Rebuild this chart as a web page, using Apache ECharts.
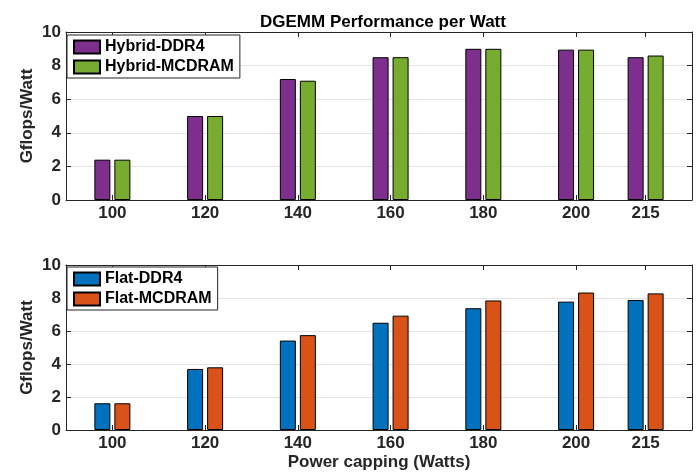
<!DOCTYPE html>
<html>
<head>
<meta charset="utf-8">
<script src="https://cdn.jsdelivr.net/npm/echarts@6/dist/echarts.min.js"></script>
<style>
html,body{margin:0;padding:0;background:#fff;}
#chart{width:698px;height:472px;}
</style>
</head>
<body>
<div id="chart"></div>
<script>
const powerCaps = [100, 120, 140, 160, 180, 200, 215];
const hybridDDR4 = [2.4, 5.0, 7.2, 8.5, 9.0, 8.95, 8.5];
const hybridMCDRAM = [2.4, 5.0, 7.1, 8.5, 9.0, 8.95, 8.6];
const flatDDR4 = [1.62, 3.7, 5.42, 6.5, 7.38, 7.78, 7.88];
const flatMCDRAM = [1.62, 3.8, 5.75, 6.93, 7.85, 8.33, 8.28];
const yTicks = [0, 2, 4, 6, 8, 10];

const FONT = "'Liberation Sans', Arial, sans-serif";
const AX = '#262626';
const colors = { hd: '#7E2F8E', hm: '#77AC30', fd: '#0072BD', fm: '#D95319' };

function pairs(vals) { return powerCaps.map((p, i) => [p, vals[i]]); }

function xAxisBottom(gridIndex, withName) {
  return {
    type: 'value', gridIndex, position: 'bottom', min: 90, max: 225,
    axisLine: { show: true, onZero: false, lineStyle: { color: AX, width: 1 } },
    axisTick: { show: true, inside: true, length: 5, customValues: powerCaps, lineStyle: { color: AX } },
    axisLabel: { show: true, customValues: powerCaps, color: AX, fontFamily: FONT, fontWeight: 'bold', fontSize: 17, margin: 5 },
    splitLine: { show: false },
    name: withName ? 'Power capping (Watts)' : '',
    nameLocation: 'middle', nameGap: 24,
    nameTextStyle: { color: AX, fontFamily: FONT, fontWeight: 'bold', fontSize: 17 }
  };
}
function xAxisTop(gridIndex) {
  return {
    type: 'value', gridIndex, position: 'top', min: 90, max: 225,
    axisLine: { show: true, onZero: false, lineStyle: { color: AX, width: 1 } },
    axisTick: { show: true, inside: true, length: 5, customValues: powerCaps, lineStyle: { color: AX } },
    axisLabel: { show: false },
    splitLine: { show: false }
  };
}
function yAxisLeft(gridIndex) {
  return {
    type: 'value', gridIndex, position: 'left', min: 0, max: 10, interval: 2,
    axisLine: { show: true, onZero: false, lineStyle: { color: AX, width: 1 } },
    axisTick: { show: true, inside: true, length: 5, lineStyle: { color: AX } },
    axisLabel: { show: true, color: AX, fontFamily: FONT, fontWeight: 'bold', fontSize: 17, margin: 5 },
    splitLine: { show: true, lineStyle: { color: '#e3e3e3', width: 1 } },
    name: 'Gflops/Watt', nameLocation: 'middle', nameGap: 30, nameRotate: 90,
    nameMoveOverlap: false,
    nameTextStyle: { color: AX, fontFamily: FONT, fontWeight: 'bold', fontSize: 17 }
  };
}
function yAxisRight(gridIndex) {
  return {
    type: 'value', gridIndex, position: 'right', min: 0, max: 10, interval: 2,
    axisLine: { show: true, onZero: false, lineStyle: { color: AX, width: 1 } },
    axisTick: { show: true, inside: true, length: 5, lineStyle: { color: AX } },
    axisLabel: { show: false },
    splitLine: { show: false }
  };
}
function barSeries(name, vals, color, xi, yi) {
  return {
    type: 'bar', name, data: pairs(vals), xAxisIndex: xi, yAxisIndex: yi,
    barWidth: 16, barGap: '25%',
    itemStyle: { color, borderColor: '#000', borderWidth: 1 },
    emphasis: { disabled: true }, z: 3
  };
}
function legend(names, top) {
  return {
    data: names.map(n => ({ name: n, icon: 'rect' })), orient: 'vertical', left: 67, top,
    itemWidth: 26, itemHeight: 13, itemGap: 4,
    padding: [4, 6, 3, 6],
    backgroundColor: '#fff', borderColor: AX, borderWidth: 1,
    textStyle: { color: '#000', fontFamily: FONT, fontWeight: 'bold', fontSize: 16 },
    selectedMode: false, z: 10
  };
}

const chart = echarts.init(document.getElementById('chart'), null, { renderer: 'canvas' });
chart.setOption({
  animation: false,
  backgroundColor: '#fff',
  title: {
    text: 'DGEMM Performance per Watt', left: 255, top: 9,
    textStyle: { color: '#000', fontFamily: FONT, fontWeight: 'bold', fontSize: 17 }
  },
  grid: [
    { left: 66, right: 6, top: 32, height: 168 },
    { left: 66, right: 6, top: 265, height: 168 }
  ],
  xAxis: [xAxisBottom(0, false), xAxisTop(0), xAxisBottom(1, true), xAxisTop(1)],
  yAxis: [yAxisLeft(0), yAxisRight(0), yAxisLeft(1), yAxisRight(1)],
  legend: [legend(['Hybrid-DDR4', 'Hybrid-MCDRAM'], 35), legend(['Flat-DDR4', 'Flat-MCDRAM'], 267)],
  series: [
    barSeries('Hybrid-DDR4', hybridDDR4, colors.hd, 0, 0),
    barSeries('Hybrid-MCDRAM', hybridMCDRAM, colors.hm, 0, 0),
    barSeries('Flat-DDR4', flatDDR4, colors.fd, 2, 2),
    barSeries('Flat-MCDRAM', flatMCDRAM, colors.fm, 2, 2)
  ]
});
</script>
</body>
</html>
